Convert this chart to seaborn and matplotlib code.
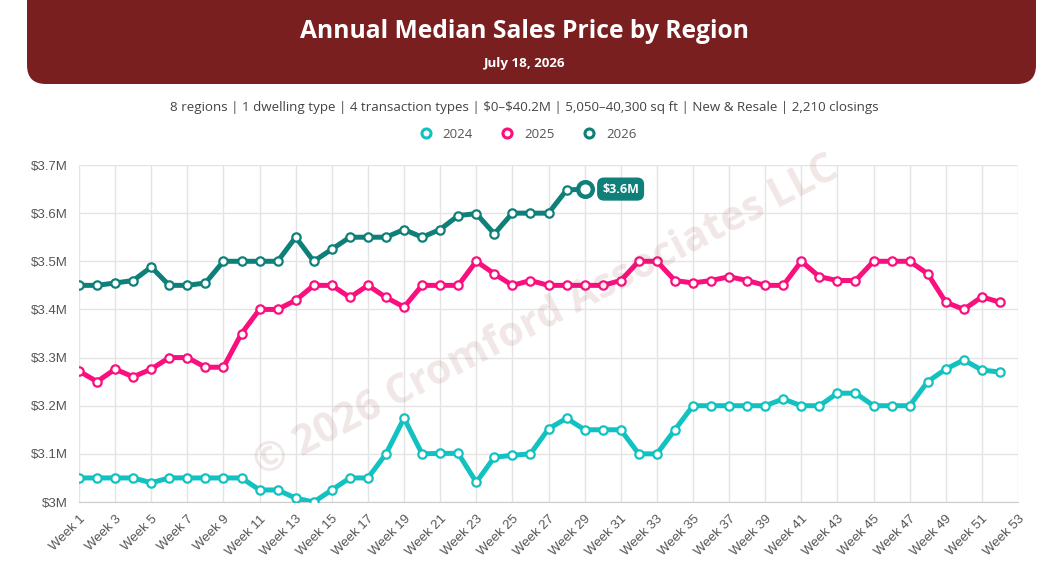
import matplotlib
matplotlib.use("Agg")
import matplotlib.pyplot as plt
import seaborn as sns
import pandas as pd
from matplotlib.patches import FancyBboxPatch
from matplotlib.lines import Line2D

# weekly median sales price, in $M
weeks = list(range(1, 53))
price_2024 = [3.05, 3.05, 3.05, 3.05, 3.04, 3.05, 3.05, 3.05, 3.05, 3.05,
              3.025, 3.025, 3.008, 3.00, 3.025, 3.05, 3.05, 3.10, 3.174, 3.10,
              3.101, 3.101, 3.041, 3.093, 3.097, 3.10, 3.152, 3.174, 3.15, 3.15,
              3.15, 3.10, 3.10, 3.15, 3.20, 3.20, 3.20, 3.20, 3.20, 3.214,
              3.20, 3.20, 3.226, 3.226, 3.20, 3.20, 3.20, 3.25, 3.276, 3.295,
              3.274, 3.27]
price_2025 = [3.272, 3.25, 3.276, 3.26, 3.276, 3.30, 3.30, 3.28, 3.28, 3.35,
              3.40, 3.40, 3.419, 3.45, 3.45, 3.425, 3.45, 3.425, 3.405, 3.45,
              3.45, 3.45, 3.50, 3.474, 3.45, 3.46, 3.45, 3.45, 3.45, 3.45,
              3.46, 3.50, 3.50, 3.46, 3.455, 3.46, 3.468, 3.46, 3.45, 3.45,
              3.50, 3.468, 3.46, 3.46, 3.50, 3.50, 3.50, 3.474, 3.415, 3.40,
              3.426, 3.415]
price_2026 = [3.45, 3.45, 3.455, 3.46, 3.488, 3.45, 3.45, 3.455, 3.50, 3.50,
              3.50, 3.50, 3.55, 3.50, 3.525, 3.55, 3.55, 3.55, 3.566, 3.55,
              3.566, 3.595, 3.599, 3.557, 3.60, 3.60, 3.60, 3.648, 3.65]

years = ["2024", "2025", "2026"]
colors = {"2024": "#12C2C0", "2025": "#FA0F7E", "2026": "#0F7F7A"}

title = "Annual Median Sales Price by Region"
date_text = "July 18, 2026"
subtitle = ("8 regions | 1 dwelling type | 4 transaction types | \\$0\u2013\\$40.2M | "
            "5,050\u201340,300 sq ft | New & Resale | 2,210 closings")
watermark = "\u00a9 2026 Cromford Associates LLC"
last_label = "\\$3.6M"

df = pd.concat([
    pd.DataFrame({"week": weeks, "price": price_2024, "year": "2024"}),
    pd.DataFrame({"week": weeks, "price": price_2025, "year": "2025"}),
    pd.DataFrame({"week": weeks[:len(price_2026)], "price": price_2026, "year": "2026"}),
])

sns.set_style("white")
plt.rcParams["font.family"] = ["Liberation Sans", "DejaVu Sans"]

fig = plt.figure(figsize=(10.49, 5.68), dpi=100)
ax = fig.add_axes([79 / 1049, 1 - 502 / 568, (1018 - 79) / 1049, (502 - 165) / 568])

sns.lineplot(data=df, x="week", y="price", hue="year", palette=colors,
             linewidth=3.6, marker="o", markersize=6, markerfacecolor="white",
             markeredgewidth=1.6, legend=False, ax=ax, zorder=3)
for line in ax.lines:
    line.set_markeredgecolor(line.get_color())
    line.set_solid_joinstyle("round")

# last point of current year highlighted
ax.plot(weeks[len(price_2026) - 1], price_2026[-1], "o", ms=10.5, mfc="white",
        mec=colors["2026"], mew=3.2, zorder=5)
ax.annotate(last_label, (weeks[len(price_2026) - 1], price_2026[-1]),
            xytext=(36, 0), textcoords="offset pixels", ha="center", va="center",
            color="white", fontsize=9, fontweight="bold", family="Open Sans",
            bbox=dict(boxstyle="round,pad=0.35,rounding_size=0.5",
                      fc=colors["2026"], ec=colors["2026"]), zorder=6)

ax.set_xlim(1, 53)
ax.set_ylim(3.0, 3.7)
ax.set_xticks(range(1, 54, 2))
ax.set_xticklabels([f"Week {w}" for w in range(1, 54, 2)], rotation=45,
                   ha="right", rotation_mode="anchor")
yt = [3.0, 3.1, 3.2, 3.3, 3.4, 3.5, 3.6, 3.7]
ax.set_yticks(yt)
ax.set_yticklabels([f"${v:g}M" for v in yt])
ax.set_xlabel("")
ax.set_ylabel("")
ax.grid(True, color="#E4E4E4", linewidth=1)
ax.tick_params(axis="both", colors="#DDDDDD", labelcolor="#555555",
               labelsize=9.5, length=6, width=1)
ax.tick_params(axis="x", pad=2)
ax.tick_params(axis="y", pad=2)
for s in ["top", "left", "right"]:
    ax.spines[s].set_visible(False)
ax.spines["bottom"].set_color("#CCCCCC")

# watermark
fig.text(546 / 1049, 1 - 317 / 568, watermark, rotation=27.5, ha="center",
         va="center", fontsize=29.5, fontweight="bold", family="Open Sans",
         color="#8B3A3A", alpha=0.12, zorder=1)

# header band
band = FancyBboxPatch((27 / 1049, 1 - 84 / 568), (1036 - 27) / 1049, 120 / 568,
                      boxstyle="round,pad=0,rounding_size=0.018",
                      transform=fig.transFigure, fc="#7A1F20", ec="none",
                      mutation_aspect=1049 / 568)
fig.patches.append(band)
fig.text(0.5, 1 - 32 / 568, title, ha="center", va="center", color="white",
         fontsize=17.7, fontweight="bold", family="Open Sans")
fig.text(0.5, 1 - 64 / 568, date_text, ha="center", va="center", color="white",
         fontsize=9.6, fontweight="bold", family="Open Sans")
fig.text(0.5, 1 - 107 / 568, subtitle, ha="center", va="center", color="#444444",
         fontsize=9.6, family="Open Sans")

handles = [Line2D([], [], ls="none", marker="o", ms=6.5, mfc="white",
                  mec=colors[y], mew=2.2) for y in years]
fig.legend(handles, years, loc="center", bbox_to_anchor=(0.5, 1 - 134 / 568),
           ncol=3, frameon=False, handletextpad=0.3,
           columnspacing=1.6, labelcolor="#555555",
           prop={"family": "Open Sans", "size": 9.5})

fig.savefig("out.png", dpi=100)
